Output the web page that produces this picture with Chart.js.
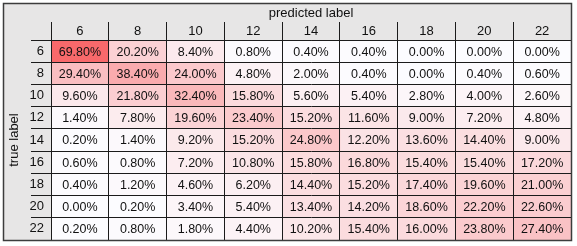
<!DOCTYPE html>
<html>
<head>
<meta charset="utf-8">
<script src="https://cdn.jsdelivr.net/npm/chart.js@4/dist/chart.umd.min.js"></script>
<style>
  body { margin: 0; background: #fff; }
  #wrap { width: 577px; height: 246px; }
</style>
</head>
<body>
<div id="wrap"><canvas id="cm"></canvas></div>
<script>
// labels for both axes
const predictedLabels = ['6', '8', '10', '12', '14', '16', '18', '20', '22'];
const trueLabels = ['6', '8', '10', '12', '14', '16', '18', '20', '22'];

// one row per true label, percent per predicted label
const row6  = [69.80, 20.20, 8.40, 0.80, 0.40, 0.40, 0.00, 0.00, 0.00];
const row8  = [29.40, 38.40, 24.00, 4.80, 2.00, 0.40, 0.00, 0.40, 0.60];
const row10 = [9.60, 21.80, 32.40, 15.80, 5.60, 5.40, 2.80, 4.00, 2.60];
const row12 = [1.40, 7.80, 19.60, 23.40, 15.20, 11.60, 9.00, 7.20, 4.80];
const row14 = [0.20, 1.40, 9.20, 15.20, 24.80, 12.20, 13.60, 14.40, 9.00];
const row16 = [0.60, 0.80, 7.20, 10.80, 15.80, 16.80, 15.40, 15.40, 17.20];
const row18 = [0.40, 1.20, 4.60, 6.20, 14.40, 15.20, 17.40, 19.60, 21.00];
const row20 = [0.00, 0.20, 3.40, 5.40, 13.40, 14.20, 18.60, 22.20, 22.60];
const row22 = [0.20, 0.80, 1.80, 4.40, 10.20, 15.40, 16.00, 23.80, 27.40];
const rates = [row6, row8, row10, row12, row14, row16, row18, row20, row22];

const FONT = '"Liberation Sans", Arial, sans-serif';
const LINE = '#1b1b1b';

// white -> red colour scale (like excel)
const maxRate = Math.max(...rates.flat());
function cellColor(v) {
  const t = v / maxRate;
  const lo = [252, 252, 255], hi = [248, 105, 107];
  const c = lo.map((a, i) => Math.round(a + (hi[i] - a) * t));
  return `rgb(${c[0]},${c[1]},${c[2]})`;
}

// each predicted column is one dataset, segments of width 1 stacked left to right
const datasets = predictedLabels.map((p, c) => ({
  label: p,
  data: trueLabels.map(() => 1),
  backgroundColor: ctx => cellColor(rates[ctx.dataIndex][c]),
  borderWidth: 0,
  barPercentage: 1,
  categoryPercentage: 1
}));

const framePlugin = {
  id: 'frame',
  beforeDraw(chart) {
    const ctx = chart.ctx;
    ctx.save();
    ctx.fillStyle = '#e7e6e6';
    ctx.fillRect(3, 3, chart.chartArea.right - 3, chart.chartArea.bottom - 3);
    ctx.restore();
  },
  afterDatasetsDraw(chart) {
    const ctx = chart.ctx;
    ctx.save();
    ctx.font = '12.5px ' + FONT;
    ctx.fillStyle = '#111';
    ctx.textAlign = 'center';
    ctx.textBaseline = 'middle';
    chart.data.datasets.forEach((ds, c) => {
      chart.getDatasetMeta(c).data.forEach((el, r) => {
        const pt = el.getCenterPoint();
        ctx.fillText(rates[r][c].toFixed(2) + '%', pt.x, pt.y + 1);
      });
    });
    ctx.restore();
  },
  afterDraw(chart) {
    const ctx = chart.ctx;
    ctx.save();
    ctx.strokeStyle = '#3c3c3c';
    ctx.lineWidth = 1.5;
    ctx.strokeRect(3.5, 3.5, chart.chartArea.right - 3, chart.chartArea.bottom - 3);
    ctx.restore();
  }
};

new Chart(document.getElementById('cm'), {
  type: 'bar',
  data: { labels: trueLabels, datasets },
  options: {
    indexAxis: 'y',
    responsive: true,
    maintainAspectRatio: false,
    animation: false,
    layout: { padding: { left: 4, top: 4, right: 6, bottom: 6 } },
    plugins: { legend: { display: false }, tooltip: { enabled: false } },
    scales: {
      x: { stacked: true, min: 0, max: predictedLabels.length, display: false },
      x2: {
        type: 'category',
        position: 'top',
        labels: predictedLabels,
        offset: true,
        grid: { offset: true, color: LINE, tickLength: 18, z: 1 },
        border: { color: LINE, z: 1 },
        ticks: { color: '#111', font: { family: FONT, size: 13 }, padding: -17.5 },
        title: { display: true, text: 'predicted label', color: '#111',
                 font: { family: FONT, size: 13 }, padding: { top: 2, bottom: 0 } },
        afterFit: s => { s.height = 36; }
      },
      y: {
        stacked: true,
        offset: true,
        grid: { offset: true, color: LINE, tickLength: 20, z: 1 },
        border: { color: LINE, z: 1 },
        ticks: { color: '#111', font: { family: FONT, size: 13 }, padding: -13 },
        title: { display: true, text: 'true label', color: '#111',
                 font: { family: FONT, size: 13 }, padding: { top: 3, bottom: 0 } },
        afterFit: s => { s.width = 47; }
      }
    }
  },
  plugins: [framePlugin]
});
</script>
</body>
</html>
